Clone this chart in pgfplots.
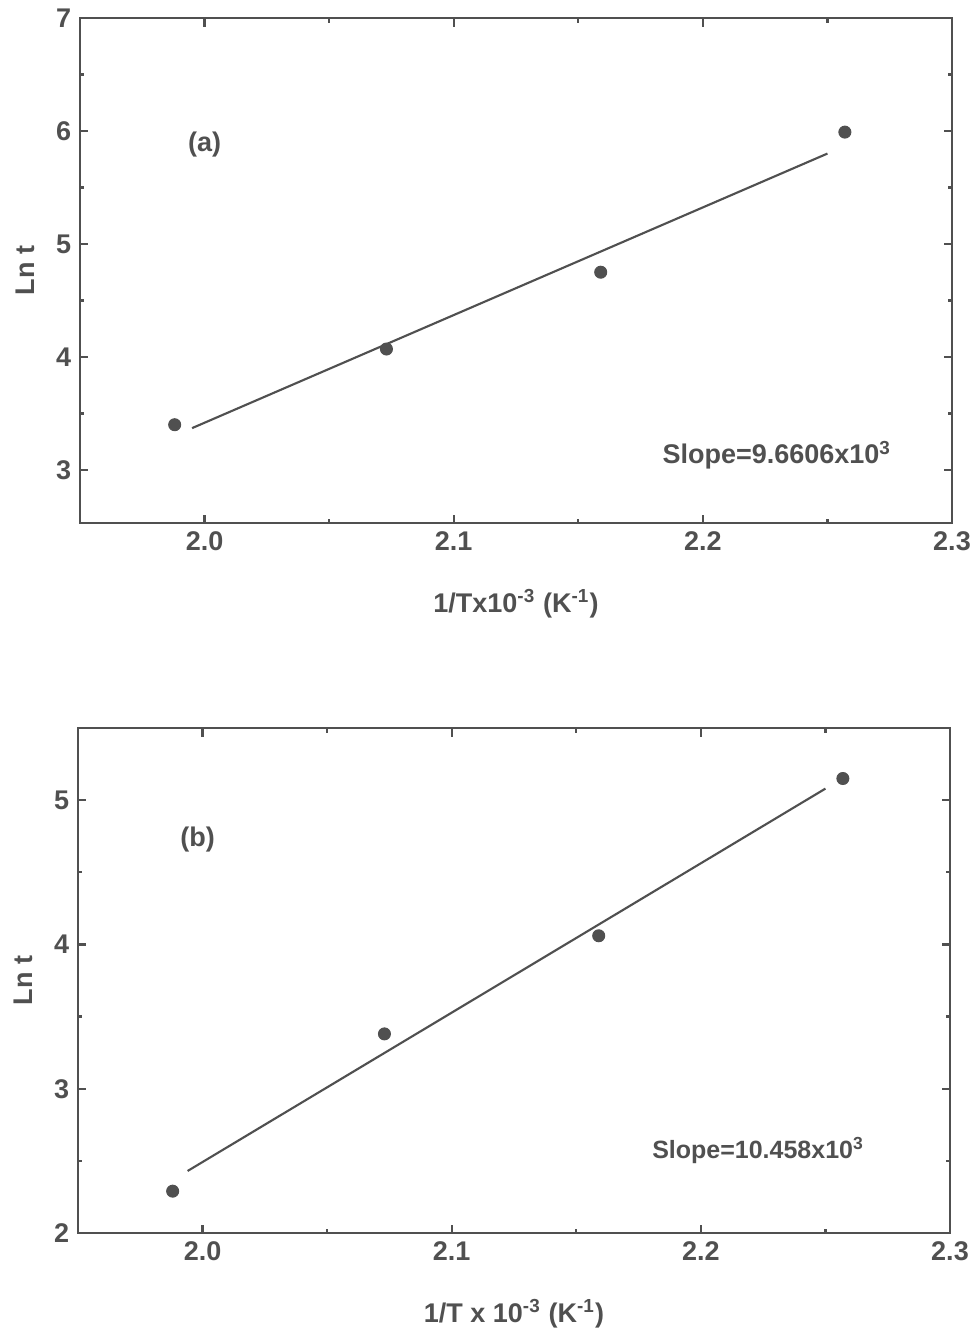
\documentclass[border=0pt]{standalone}
\usepackage{fontspec}
\setmainfont{Liberation Sans}
\usepackage{pgfplots}
\pgfplotsset{compat=1.18}

\definecolor{ink}{HTML}{505050}

\pgfplotsset{
  arr/.style={
    scale only axis,
    width=348.8pt, height=202pt,
    xmin=1.95, xmax=2.3,
    xtick={2.0,2.1,2.2,2.3},
    minor x tick num=1,
    minor y tick num=1,
    tick align=inside,
    major tick length=3.4pt,
    minor tick length=1.8pt,
    axis line style={ink, line width=1.1pt},
    every tick/.style={ink, line width=0.9pt},
    font=\fontsize{10.8}{13}\selectfont\bfseries\color{ink},
    /pgf/number format/assume math mode=true,
    xticklabel style={/pgf/number format/fixed, /pgf/number format/fixed zerofill, /pgf/number format/precision=1},
    ylabel={Ln t},
    ylabel style={at={(axis description cs:-0.063,0.5)}, anchor=center, rotate=0},
    xlabel style={at={(axis description cs:0.5,-0.16)}, anchor=center},
    clip=false,
  },
  pts/.style={only marks, mark=*, mark size=2.4pt, ink, mark options={fill=ink, draw=ink}},
  fit/.style={no marks, ink, line width=0.85pt},
}

\begin{document}
\begin{tikzpicture}
\useasboundingbox (-32pt,7.2pt) rectangle (359.6pt,-528.4pt);

\begin{axis}[arr, at={(0,0)}, anchor=north west,
  ymin=2.53, ymax=7, ytick={3,4,5,6,7},
  xlabel={1/Tx10\textsuperscript{-3} (K\textsuperscript{-1})}]
\addplot[pts] coordinates {(1.988,3.40) (2.073,4.07) (2.159,4.75) (2.257,5.99)};
\addplot[fit] coordinates {(1.995,3.37) (2.250,5.80)};
\node at (axis cs:2.0,5.88) {(a)};
\node at (axis cs:2.2297,3.13) {Slope=9.6606x10\textsuperscript{3}};
\end{axis}

\begin{axis}[arr, at={(-0.8pt,-284pt)}, anchor=north west,
  ymin=2, ymax=5.5, ytick={2,3,4,5},
  xlabel={1/T x 10\textsuperscript{-3} (K\textsuperscript{-1})}]
\addplot[pts] coordinates {(1.988,2.29) (2.073,3.38) (2.159,4.06) (2.257,5.15)};
\addplot[fit] coordinates {(1.994,2.43) (2.250,5.08)};
\node at (axis cs:1.998,4.73) {(b)};
\node[font=\fontsize{10}{12}\selectfont\bfseries\color{ink}] at (axis cs:2.223,2.57) {Slope=10.458x10\textsuperscript{3}};
\end{axis}
\end{tikzpicture}
\end{document}
